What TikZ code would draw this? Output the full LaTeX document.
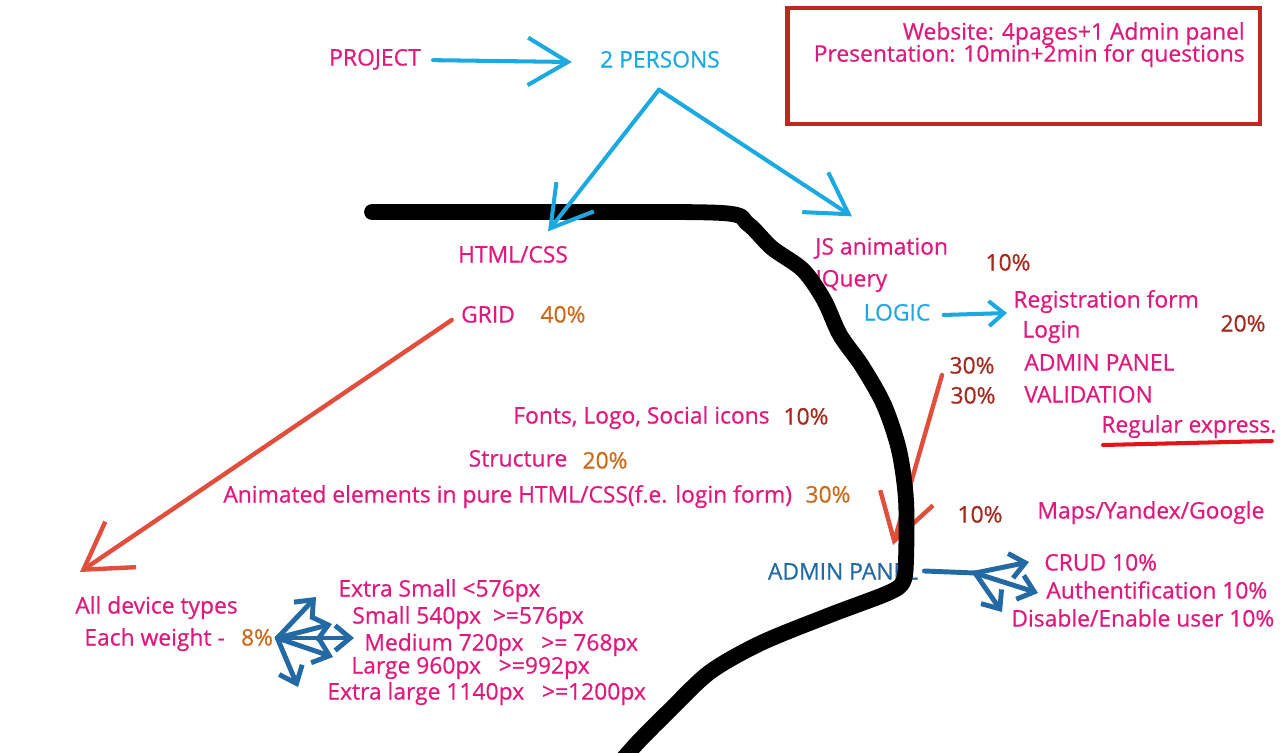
\documentclass[tikz,border=0pt]{standalone}
\usepackage{fontspec}
\setmainfont{Open Sans}[FakeBold=0.6]
\usepackage{xcolor}
\usetikzlibrary{arrows.meta,positioning}
\definecolor{inkpink}{HTML}{E0197D}
\definecolor{inkcyan}{HTML}{1CA9E1}
\definecolor{inkblue}{HTML}{2369A3}
\definecolor{inkred}{HTML}{A32A1F}
\definecolor{inkorange}{HTML}{CC6A1C}
\definecolor{penred}{HTML}{E24E3C}
\definecolor{boxred}{HTML}{B82A22}
\definecolor{ulred}{HTML}{E3141A}

\begin{document}
\begin{tikzpicture}[
  x=0.02cm, y=-0.02cm,
  every node/.style={inner sep=0pt, font=\fontsize{13}{15}\selectfont,
    text height=9pt, text depth=2.7pt},
  lblpink/.style={text=inkpink},
  lblcyan/.style={text=inkcyan},
  lblblue/.style={text=inkblue},
  pctred/.style={text=inkred},
  pctorange/.style={text=inkorange},
  infobox/.style={draw=boxred, line width=2.8pt, minimum width=9.46cm,
    minimum height=2.32cm},
  cyanarr/.style={draw=inkcyan, line width=2.3pt, line cap=round,
    -{Straight Barb[length=0.8cm, width=0.95cm]}},
  smallarr/.style={draw=inkcyan, line width=2.3pt, line cap=round,
    -{Straight Barb[length=0.3cm, width=0.5cm]}},
  redarr/.style={draw=penred, line width=2.5pt, line cap=round,
    -{Straight Barb[length=0.9cm, width=1.1cm]}},
  bluearr/.style={draw=inkblue, line width=2.8pt, line cap=round,
    -{Straight Barb[length=0.3cm, width=0.5cm]}},
  blueline/.style={draw=inkblue, line width=2.8pt, line cap=round},
  pen/.style={draw=black, line width=9pt, line cap=round, line join=round}
]
  \useasboundingbox (0,0) rectangle (1280,753);

  \node[lblpink] (project) at (375,60) {PROJECT};
  \node[lblcyan] (persons) at (660,62) {2 PERSONS};
  \node[infobox] (info) at (1023.5,66) {};
  \node[lblpink, anchor=east, text depth=1.5pt] (site) at (1245,33) {Website: 4pages+1 Admin panel};
  \node[lblpink, anchor=east, text height=8pt] (talk) at (1245,57) {Presentation: 10min+2min for questions};

  \node[lblpink] (htmlcss) at (513,257) {HTML/CSS};
  \node[lblpink] (grid) at (488,317) {GRID};
  \node[pctorange] (p40) at (563,317) {40\%};
  \node[lblpink, anchor=east] (fonts) at (770,418) {Fonts, Logo, Social icons};
  \node[pctred] (p10f) at (806,419) {10\%};
  \node[lblpink] (struct) at (518,461) {Structure};
  \node[pctorange] (p20s) at (605,463) {20\%};
  \node[lblpink, anchor=west] (anim) at (223,497) {Animated elements in pure HTML/CSS(f.e. login form)};
  \node[pctorange] (p30an) at (828,497) {30\%};

  \node[lblpink, anchor=west] (jsanim) at (815,249) {JS animation};
  \node[lblpink, anchor=west] (jquery) at (815,281) {IQuery};
  \node[pctred] (p10js) at (1008,265) {10\%};
  \node[lblcyan] (logic) at (897,315) {LOGIC};
  \node[lblpink, anchor=west] (regform) at (1013,302) {Registration form};
  \node[lblpink, anchor=west] (login) at (1022,332) {Login};
  \node[pctred] (p20log) at (1243,326) {20\%};
  \node[pctred] (p30a) at (972,368) {30\%};
  \node[lblpink, anchor=west] (adminp) at (1024,365) {ADMIN PANEL};
  \node[pctred] (p30b) at (973,398) {30\%};
  \node[lblpink, anchor=west] (valid) at (1024,397) {VALIDATION};
  \node[lblpink, anchor=west] (regex) at (1101,427) {Regular express.};
  \node[pctred] (p10m) at (980,517) {10\%};
  \node[lblpink, anchor=west] (maps) at (1037,513) {Maps/Yandex/Google};

  \node[lblblue] (adminb) at (843,574) {ADMIN PANEL};
  \node[lblpink, anchor=west] (crud) at (1044,565) {CRUD 10\%};
  \node[lblpink, anchor=west] (auth) at (1046,593) {Authentification 10\%};
  \node[lblpink, anchor=west] (disable) at (1011,621) {Disable/Enable user 10\%};
  \coordinate (abr) at (975,573);

  \node[lblpink, anchor=west] (devices) at (75,608) {All device types};
  \node[lblpink, anchor=west] (weight) at (84,640) {Each weight -};
  \node[pctorange] (p8) at (257,640) {8\%};
  \node[lblpink, anchor=west] (xs) at (338,591) {Extra Small <576px};
  \node[lblpink, anchor=west] (sm) at (352,618) {Small 540px\ \ >=576px};
  \node[lblpink, anchor=west] (md) at (364,645) {Medium 720px\ \ \ >= 768px};
  \node[lblpink, anchor=west] (lg) at (351,668) {Large 960px\ \ \ >=992px};
  \node[lblpink, anchor=west] (xl) at (327,694) {Extra large 1140px\ \ \ >=1200px};

  \draw[redarr] ([shift={(-9,3)}]grid.west) -- ([shift={(5,-36)}]devices.west);
  \draw[redarr] ([shift={(-30,7)}]p30a.center) -- ([shift={(50,-29)}]adminb.center);
  \draw[draw=ulred, line width=2.3pt, line cap=round]
    ([shift={(2,18)}]regex.west) -- ([shift={(-5,14)}]regex.east);

  \draw[blueline] ([shift={(6,-3)}]adminb.east) -- (abr);
  \draw[bluearr] (abr) -- ([shift={(-15,-3)}]crud.west);
  \draw[bluearr] (abr) -- ([shift={(-8,0)}]auth.west);
  \draw[bluearr] (abr) -- ([shift={(-9,-9)}]disable.west);

  \draw[bluearr] ([shift={(4,-2)}]p8.east) -- ([shift={(-22,6)}]xs.west);
  \draw[bluearr] ([shift={(4,-2)}]p8.east) -- ([shift={(-20,6)}]sm.west);
  \draw[bluearr] ([shift={(4,-2)}]p8.east) -- ([shift={(-10,-7)}]md.west);
  \draw[bluearr] ([shift={(4,-2)}]p8.east) -- ([shift={(-18,-11)}]lg.west);
  \draw[bluearr] ([shift={(4,-2)}]p8.east) -- ([shift={(-29,-7)}]xl.west);

  \draw[pen] plot[smooth, tension=0.5] coordinates {
    (372,212) (560,212) (722,213) (748,224) (772,248) (803,270) (824,300)
    (840,335) (862,366) (884,405) (899,450) (906,500) (906,560) (903,582)
    (888,593) (830,615) (761,643) (710,672) (670,710) (640,740) (622,760)};

  \draw[cyanarr, shorten <=12pt*0.567] (project.east) -- ([xshift=-0.56cm]persons.west);
  \draw[cyanarr] ([shift={(-1,17)}]persons.south) -- ([shift={(35,-15)}]htmlcss.north);
  \draw[cyanarr] ([shift={(-1,17)}]persons.south) -- ([shift={(37,-22)}]jsanim.north west);
  \draw[smallarr] ([xshift=0.26cm]logic.east) -- ([shift={(-6,11)}]regform.west);
\end{tikzpicture}
\end{document}
